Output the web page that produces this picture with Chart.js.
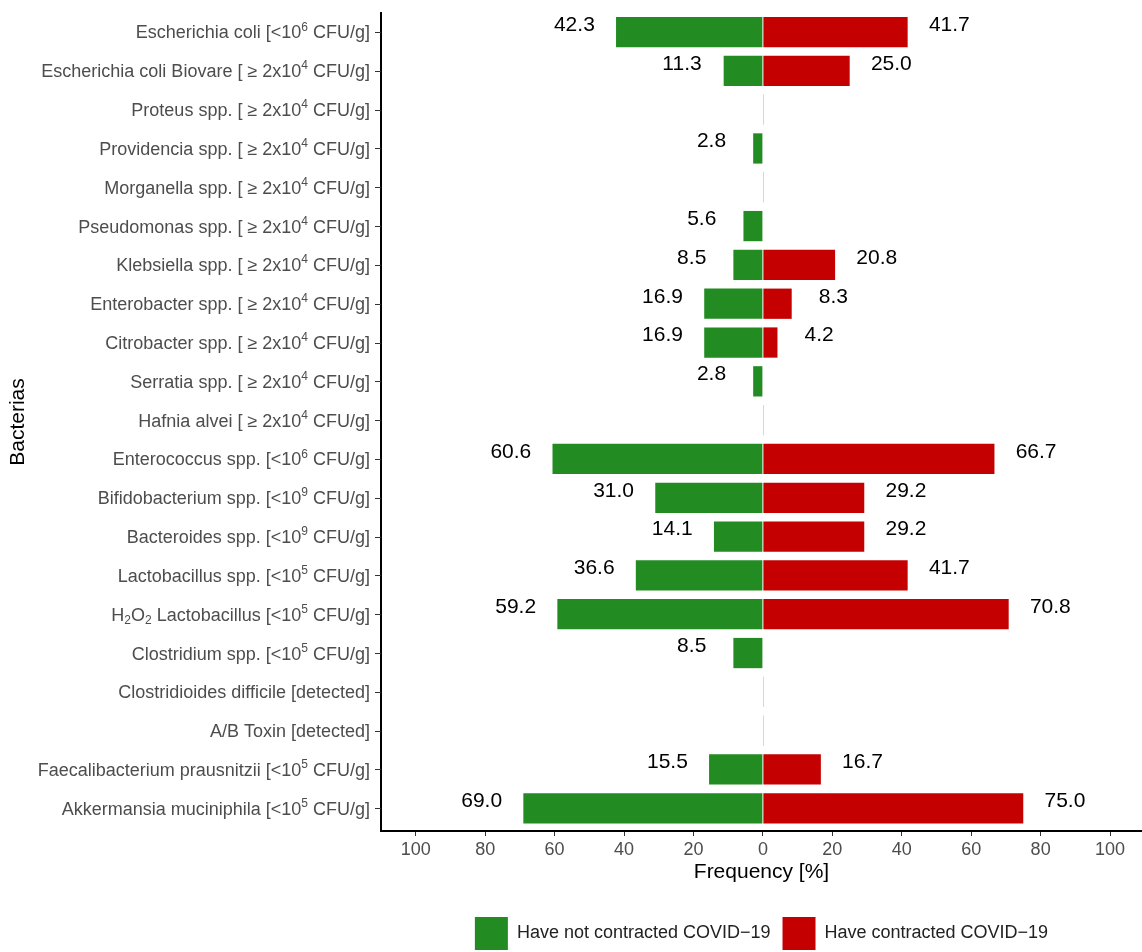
<!DOCTYPE html>
<html>
<head>
<meta charset="utf-8">
<script src="https://cdn.jsdelivr.net/npm/chart.js@4.4.1/dist/chart.umd.min.js"></script>
<style>
  html, body { margin: 0; padding: 0; background: #fff; }
</style>
</head>
<body>
<canvas id="bacteriaChart" width="1142" height="952"></canvas>
<script>
// ^N = superscript digit, _N = subscript digit
const bacteria = [
  'Escherichia coli [<10^6 CFU/g]',
  'Escherichia coli Biovare [ \u2265 2x10^4 CFU/g]',
  'Proteus spp. [ \u2265 2x10^4 CFU/g]',
  'Providencia spp. [ \u2265 2x10^4 CFU/g]',
  'Morganella spp. [ \u2265 2x10^4 CFU/g]',
  'Pseudomonas spp. [ \u2265 2x10^4 CFU/g]',
  'Klebsiella spp. [ \u2265 2x10^4 CFU/g]',
  'Enterobacter spp. [ \u2265 2x10^4 CFU/g]',
  'Citrobacter spp. [ \u2265 2x10^4 CFU/g]',
  'Serratia spp. [ \u2265 2x10^4 CFU/g]',
  'Hafnia alvei [ \u2265 2x10^4 CFU/g]',
  'Enterococcus spp. [<10^6 CFU/g]',
  'Bifidobacterium spp. [<10^9 CFU/g]',
  'Bacteroides spp. [<10^9 CFU/g]',
  'Lactobacillus spp. [<10^5 CFU/g]',
  'H_2O_2 Lactobacillus [<10^5 CFU/g]',
  'Clostridium spp. [<10^5 CFU/g]',
  'Clostridioides difficile [detected]',
  'A/B Toxin [detected]',
  'Faecalibacterium prausnitzii [<10^5 CFU/g]',
  'Akkermansia muciniphila [<10^5 CFU/g]'
];

const notContracted = [42.3, 11.3, 0, 2.8, 0, 5.6, 8.5, 16.9, 16.9, 2.8, 0, 60.6, 31.0, 14.1, 36.6, 59.2, 8.5, 0, 0, 15.5, 69.0];
const contracted = [41.7, 25.0, 0, 0, 0, 0, 20.8, 8.3, 4.2, 0, 0, 66.7, 29.2, 29.2, 41.7, 70.8, 0, 0, 0, 16.7, 75.0];

const xTickValues = [-100, -80, -60, -40, -20, 0, 20, 40, 60, 80, 100];
const seriesNames = ['Have not contracted COVID\u221219', 'Have contracted COVID\u221219'];

const FONT = '"Liberation Sans", Arial, sans-serif';
const GREEN = '#228B22';
const RED = '#C40000';

function drawRichLabel(ctx, text, xRight, yMid, size) {
  const parts = [];
  const re = /([\^_])(\d)/g;
  let last = 0;
  let m;
  while ((m = re.exec(text))) {
    if (m.index > last) parts.push({ t: text.slice(last, m.index), k: 'n' });
    parts.push({ t: m[2], k: m[1] === '^' ? 'sup' : 'sub' });
    last = re.lastIndex;
  }
  if (last < text.length) parts.push({ t: text.slice(last), k: 'n' });

  const small = Math.round(size * 0.66);
  const fontFor = (k) => (k === 'n' ? size : small) + 'px ' + FONT;
  let total = 0;
  parts.forEach((p) => {
    ctx.font = fontFor(p.k);
    p.w = ctx.measureText(p.t).width;
    total += p.w;
  });

  const baseline = yMid + size * 0.36;
  let x = xRight - total;
  ctx.textAlign = 'left';
  ctx.textBaseline = 'alphabetic';
  parts.forEach((p) => {
    ctx.font = fontFor(p.k);
    let dy = 0;
    if (p.k === 'sup') dy = -size * 0.44;
    if (p.k === 'sub') dy = size * 0.2;
    ctx.fillText(p.t, x, baseline + dy);
    x += p.w;
  });
}

// rows where both values are 0 show a faint line at 0
const zeroLinePlugin = {
  id: 'zeroLines',
  beforeDatasetsDraw(chart) {
    const { ctx, scales: { x, y } } = chart;
    const half = chart.getDatasetMeta(0).data[0].height / 2;
    ctx.save();
    ctx.strokeStyle = '#d6d6d6';
    ctx.lineWidth = 1;
    bacteria.forEach((name, i) => {
      if (notContracted[i] === 0 && contracted[i] === 0) {
        const px = Math.round(x.getPixelForValue(0)) + 0.5;
        const py = y.getPixelForValue(i + 1);
        ctx.beginPath();
        ctx.moveTo(px, py - half);
        ctx.lineTo(px, py + half);
        ctx.stroke();
      }
    });
    ctx.restore();
  }
};

const labelPlugin = {
  id: 'richLabels',
  afterDraw(chart) {
    const { ctx, scales: { x, y } } = chart;
    ctx.save();
    // category tick marks and labels
    ctx.strokeStyle = '#333';
    ctx.lineWidth = 1;
    ctx.fillStyle = '#4D4D4D';
    bacteria.forEach((name, i) => {
      const py = y.getPixelForValue(i + 1);
      ctx.beginPath();
      ctx.moveTo(y.right - 6, Math.round(py) + 0.5);
      ctx.lineTo(y.right, Math.round(py) + 0.5);
      ctx.stroke();
      drawRichLabel(ctx, name, y.right - 11, py, 18);
    });
    // value labels
    ctx.fillStyle = '#000';
    ctx.font = '21px ' + FONT;
    ctx.textAlign = 'center';
    ctx.textBaseline = 'middle';
    bacteria.forEach((name, i) => {
      const py = y.getPixelForValue(i + 1) - 7;
      if (notContracted[i] > 0) {
        ctx.fillText(notContracted[i].toFixed(1), x.getPixelForValue(-(notContracted[i] + 12)), py);
      }
      if (contracted[i] > 0) {
        ctx.fillText(contracted[i].toFixed(1), x.getPixelForValue(contracted[i] + 12), py);
      }
    });
    ctx.restore();
  }
};

const ctx = document.getElementById('bacteriaChart').getContext('2d');

new Chart(ctx, {
  type: 'bar',
  data: {
    datasets: [
      {
        label: seriesNames[0],
        data: notContracted.map((v, i) => ({ x: -v, y: i + 1 })),
        backgroundColor: GREEN,
        grouped: false,
      },
      {
        label: seriesNames[1],
        data: contracted.map((v, i) => ({ x: v, y: i + 1 })),
        backgroundColor: RED,
        grouped: false,
      }
    ]
  },
  options: {
    indexAxis: 'y',
    responsive: false,
    animation: false,
    barPercentage: 0.78,
    categoryPercentage: 1,
    layout: {
      padding: { top: 13, left: 0, right: 0, bottom: -8 }
    },
    scales: {
      x: {
        type: 'linear',
        min: -110,
        max: 109.2,
        afterBuildTicks: (scale) => {
          scale.ticks = xTickValues.map((v) => ({ value: v }));
        },
        afterFit: (scale) => {
          scale.height = 74;
        },
        ticks: {
          color: '#4D4D4D',
          font: { family: FONT, size: 18 },
          padding: 3,
          maxRotation: 0,
          autoSkip: false,
          callback: (v) => Math.abs(v)
        },
        grid: {
          drawOnChartArea: false,
          drawTicks: true,
          tickLength: 5,
          color: '#333',
          lineWidth: 1
        },
        border: { color: '#000', width: 2 },
        title: {
          display: true,
          text: 'Frequency [%]',
          color: '#000',
          font: { family: FONT, size: 21 },
          padding: { top: 0, bottom: 20 }
        }
      },
      y: {
        type: 'linear',
        reverse: true,
        offset: false,
        min: 0.51,
        max: 21.585,
        afterBuildTicks: (scale) => {
          scale.ticks = bacteria.map((b, i) => ({ value: i + 1 }));
        },
        afterFit: (scale) => {
          scale.width = 381;
        },
        ticks: {
          display: false
        },
        grid: {
          display: false
        },
        border: { color: '#000', width: 2 },
        title: {
          display: true,
          text: 'Bacterias',
          color: '#000',
          font: { family: FONT, size: 21 },
          padding: { top: 6, bottom: 0 }
        }
      }
    },
    plugins: {
      legend: {
        display: true,
        position: 'bottom',
        fullSize: false,
        labels: {
          boxWidth: 33,
          boxHeight: 33,
          padding: 12,
          color: '#222',
          font: { family: FONT, size: 18 }
        }
      },
      tooltip: { enabled: false }
    }
  },
  plugins: [zeroLinePlugin, labelPlugin]
});
</script>
</body>
</html>
